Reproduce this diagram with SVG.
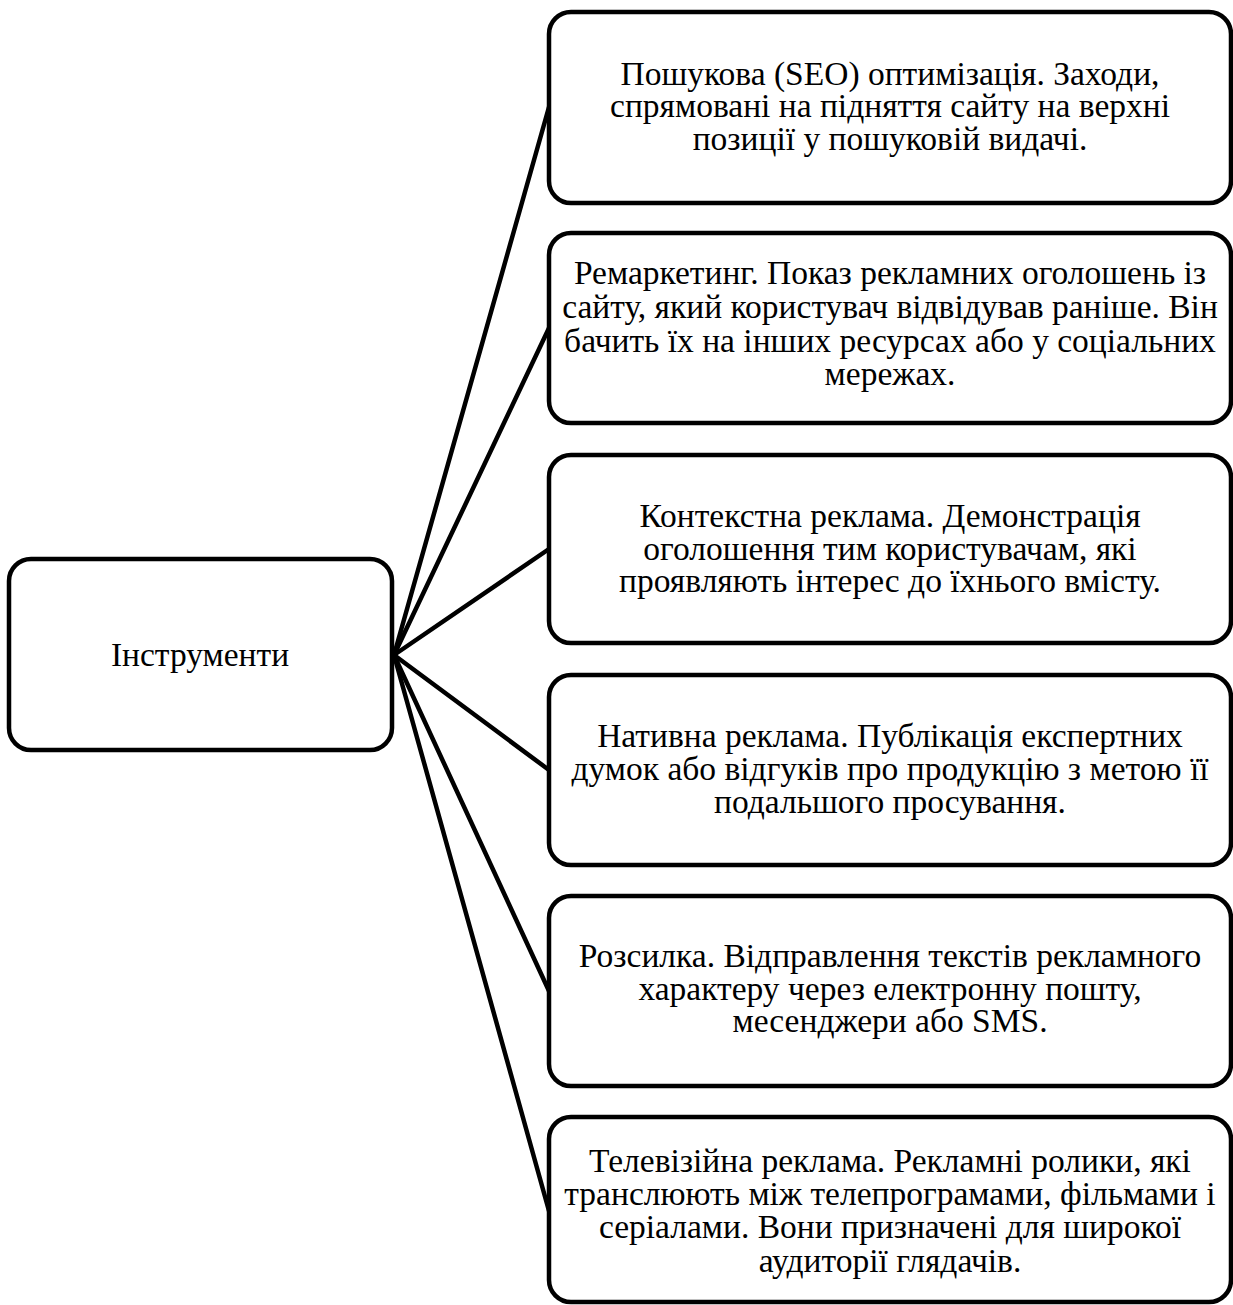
<svg xmlns="http://www.w3.org/2000/svg" width="1233" height="1305" viewBox="0 0 1233 1305">
<style>
.box{fill:#fff;stroke:#000;stroke-width:4.5}
.t{font-family:"Liberation Serif","Times New Roman",serif;font-size:33.5px;fill:#000;text-anchor:middle}
.c{stroke:#000;stroke-width:4.5;fill:none;stroke-linecap:round}
</style>
<rect width="1233" height="1305" fill="#fff"/>
<g id="connectors">
<line class="c" x1="394" y1="655" x2="549" y2="107"/>
<line class="c" x1="394" y1="655" x2="549" y2="328"/>
<line class="c" x1="394" y1="655" x2="549" y2="549"/>
<line class="c" x1="394" y1="655" x2="549" y2="770"/>
<line class="c" x1="394" y1="655" x2="549" y2="991"/>
<line class="c" x1="394" y1="655" x2="549" y2="1211"/>
</g>
<g id="root">
<rect class="box" x="9" y="559" width="383" height="191" rx="22"/>
<text class="t" x="200" y="666">Інструменти</text>
</g>
<g id="n1">
<rect class="box" x="549" y="12" width="682" height="191" rx="22"/>
<text class="t"><tspan x="890" y="85">Пошукова (SEO) оптимізація. Заходи,</tspan><tspan x="890" y="117">спрямовані на підняття сайту на верхні</tspan><tspan x="890" y="150">позиції у пошуковій видачі.</tspan></text>
</g>
<g id="n2">
<rect class="box" x="549" y="233" width="682" height="190" rx="22"/>
<text class="t"><tspan x="890" y="284">Ремаркетинг. Показ рекламних оголошень із</tspan><tspan x="890" y="318">сайту, який користувач відвідував раніше. Він</tspan><tspan x="890" y="352">бачить їх на інших ресурсах або у соціальних</tspan><tspan x="890" y="385">мережах.</tspan></text>
</g>
<g id="n3">
<rect class="box" x="549" y="455" width="682" height="188" rx="22"/>
<text class="t"><tspan x="890" y="527">Контекстна реклама. Демонстрація</tspan><tspan x="890" y="560">оголошення тим користувачам, які</tspan><tspan x="890" y="592">проявляють інтерес до їхнього вмісту.</tspan></text>
</g>
<g id="n4">
<rect class="box" x="549" y="675" width="682" height="190" rx="22"/>
<text class="t"><tspan x="890" y="747">Нативна реклама. Публікація експертних</tspan><tspan x="890" y="780">думок або відгуків про продукцію з метою її</tspan><tspan x="890" y="813">подальшого просування.</tspan></text>
</g>
<g id="n5">
<rect class="box" x="549" y="896" width="682" height="190" rx="22"/>
<text class="t"><tspan x="890" y="967">Розсилка. Відправлення текстів рекламного</tspan><tspan x="890" y="1000">характеру через електронну пошту,</tspan><tspan x="890" y="1032">месенджери або SMS.</tspan></text>
</g>
<g id="n6">
<rect class="box" x="549" y="1117" width="682" height="185" rx="22"/>
<text class="t"><tspan x="890" y="1172">Телевізійна реклама. Рекламні ролики, які</tspan><tspan x="890" y="1205">транслюють між телепрограмами, фільмами і</tspan><tspan x="890" y="1238">серіалами. Вони призначені для широкої</tspan><tspan x="890" y="1272">аудиторії глядачів.</tspan></text>
</g>
</svg>
